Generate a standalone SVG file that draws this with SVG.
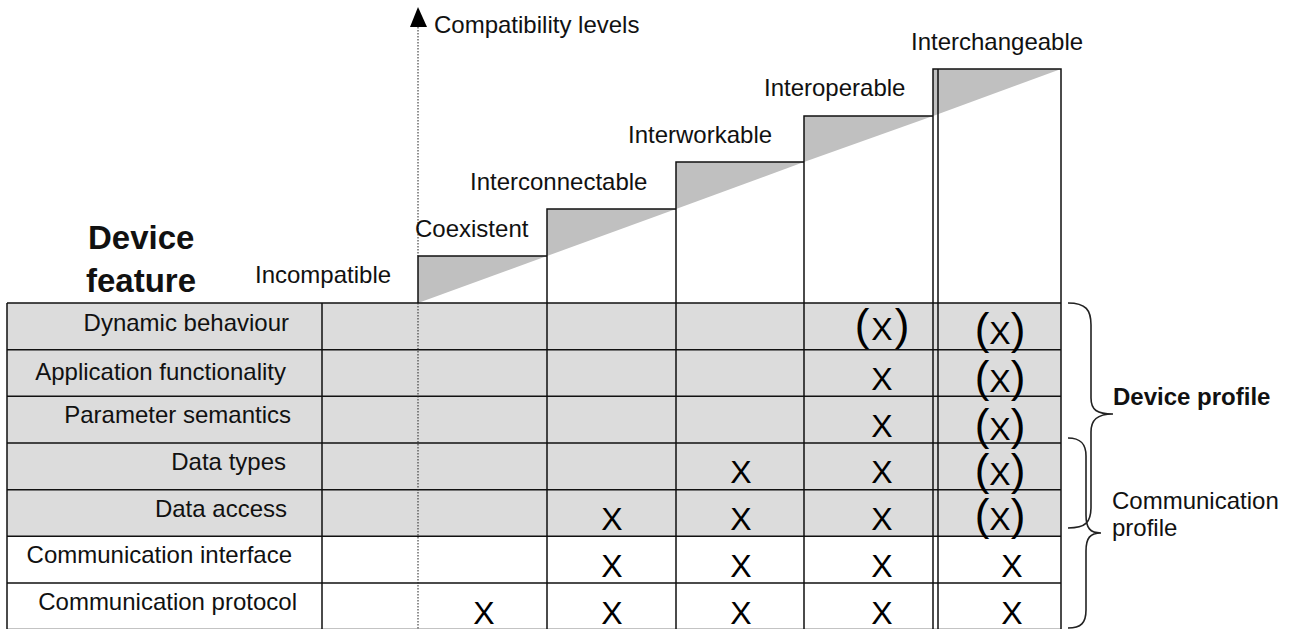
<svg xmlns="http://www.w3.org/2000/svg" width="1295" height="629" viewBox="0 0 1295 629">
  <style>
    text { font-family: "Liberation Sans", Arial, sans-serif; fill: #111; }
    .lbl { font-size: 24px; }
    .row { font-size: 24px; text-anchor: end; }
    .head { font-size: 33px; font-weight: bold; }
    .bold { font-size: 24px; font-weight: bold; }
    .mark { font-size: 32px; text-anchor: middle; fill: #000; }
    .p { font-size: 44px; }
    .ln { stroke: #111; stroke-width: 1.5; fill: none; }
    .wedge { fill: #c0c0c0; stroke: none; }
    .grey { fill: #dcdcdc; }
    .dots { stroke: #222; stroke-width: 1; stroke-dasharray: 1.5 1.5; fill: none; }
    .brace { stroke: #222; stroke-width: 1.6; fill: none; }
  </style>

  <rect width="1295" height="629" fill="#fff"/>

  <!-- feature rows: five shaded rows, two plain rows -->
  <g id="table-bg">
    <rect class="grey" x="7" y="303" width="1054" height="233.5"/>
  </g>

  <!-- compatibility steps with shaded wedges under the common diagonal -->
  <g id="levels">
    <g id="level-coexistent">
      <polygon class="wedge" points="418,256 547,256 418,303"/>
      <path class="ln" d="M418,303 V256 H547"/>
    </g>
    <g id="level-interconnectable">
      <polygon class="wedge" points="547,209 676,209 547,256"/>
      <path class="ln" d="M547,303 V209 H676"/>
    </g>
    <g id="level-interworkable">
      <polygon class="wedge" points="676,162 804,162 676,209"/>
      <path class="ln" d="M676,303 V162 H804"/>
    </g>
    <g id="level-interoperable">
      <polygon class="wedge" points="804,116 933,116 804,162"/>
      <path class="ln" d="M804,303 V116 H933"/>
    </g>
    <g id="level-interchangeable">
      <polygon class="wedge" points="933,69 1061,69 933,116"/>
      <path class="ln" d="M933,303 V69 H1061 V303 M938,69 V303"/>
    </g>
  </g>

  <!-- grid lines -->
  <g id="grid">
    <path class="ln" d="M7,303 H1061 M7,349.7 H1061 M7,396.3 H1061 M7,443 H1061 M7,489.7 H1061 M7,536.3 H1061 M7,583 H1061 M7,629.5 H1061"/>
    <path class="ln" d="M7,303 V630 M322,303 V630 M547,303 V630 M676,303 V630 M804,303 V630 M933,303 V630 M938,303 V630 M1061,303 V630"/>
  </g>

  <!-- compatibility axis and profile braces -->
  <g id="connectors">
    <path class="dots" d="M418,27 V256 M418,303 V629"/>
    <polygon points="418,7 410,27 427,27" fill="#000"/>
    <path class="brace" d="M1068,303 C1086,303 1091,310 1091,325 L1091,398 C1091,410 1097,414 1113,414 C1097,414 1091,420 1091,432 L1091,507 C1091,522 1086,528 1068,528"/>
    <path class="brace" d="M1068,438 C1081,438 1086,444 1086,456 L1086,515 C1086,528 1090,533 1101,533 C1090,533 1086,538 1086,551 L1086,610 C1086,623 1081,628 1068,628"/>
  </g>

  <g id="axis-label">
    <text class="lbl" x="434" y="33">Compatibility levels</text>
  </g>

  <g id="level-labels">
    <text class="lbl" x="255" y="283">Incompatible</text>
    <text class="lbl" x="415" y="237">Coexistent</text>
    <text class="lbl" x="470" y="190">Interconnectable</text>
    <text class="lbl" x="628" y="143">Interworkable</text>
    <text class="lbl" x="764" y="96">Interoperable</text>
    <text class="lbl" x="911" y="50">Interchangeable</text>
  </g>

  <g id="feature-heading">
    <text class="head" x="88" y="249">Device</text>
    <text class="head" x="86" y="292">feature</text>
  </g>

  <g id="feature-rows">
    <text class="row" x="289" y="331">Dynamic behaviour</text>
    <text class="row" x="286" y="380">Application functionality</text>
    <text class="row" x="291" y="423">Parameter semantics</text>
    <text class="row" x="286" y="470">Data types</text>
    <text class="row" x="287" y="517">Data access</text>
    <text class="row" x="292" y="563">Communication interface</text>
    <text class="row" x="297" y="610">Communication protocol</text>
  </g>

  <g id="marks">
    <!-- Coexistent -->
    <text class="mark" x="484" y="624">X</text>
    <!-- Interconnectable -->
    <text class="mark" x="612" y="530">X</text>
    <text class="mark" x="612" y="577">X</text>
    <text class="mark" x="612" y="624">X</text>
    <!-- Interworkable -->
    <text class="mark" x="741" y="483">X</text>
    <text class="mark" x="741" y="530">X</text>
    <text class="mark" x="741" y="577">X</text>
    <text class="mark" x="741" y="624">X</text>
    <!-- Interoperable -->
    <text class="mark" x="882" y="340"><tspan class="p">(</tspan><tspan dx="2">X</tspan><tspan class="p" dx="2">)</tspan></text>
    <text class="mark" x="882" y="390">X</text>
    <text class="mark" x="882" y="437">X</text>
    <text class="mark" x="882" y="483">X</text>
    <text class="mark" x="882" y="530">X</text>
    <text class="mark" x="882" y="577">X</text>
    <text class="mark" x="882" y="624">X</text>
    <!-- Interchangeable -->
    <text class="mark" x="1000" y="344"><tspan class="p">(</tspan>X<tspan class="p">)</tspan></text>
    <text class="mark" x="1000" y="392"><tspan class="p">(</tspan>X<tspan class="p">)</tspan></text>
    <text class="mark" x="1000" y="440"><tspan class="p">(</tspan>X<tspan class="p">)</tspan></text>
    <text class="mark" x="1000" y="485"><tspan class="p">(</tspan>X<tspan class="p">)</tspan></text>
    <text class="mark" x="1000" y="530"><tspan class="p">(</tspan>X<tspan class="p">)</tspan></text>
    <text class="mark" x="1012" y="577">X</text>
    <text class="mark" x="1012" y="624">X</text>
  </g>

  <g id="profile-labels">
    <text class="bold" x="1113" y="405">Device profile</text>
    <text class="lbl" x="1112" y="509">Communication</text>
    <text class="lbl" x="1112" y="536">profile</text>
  </g>
</svg>
